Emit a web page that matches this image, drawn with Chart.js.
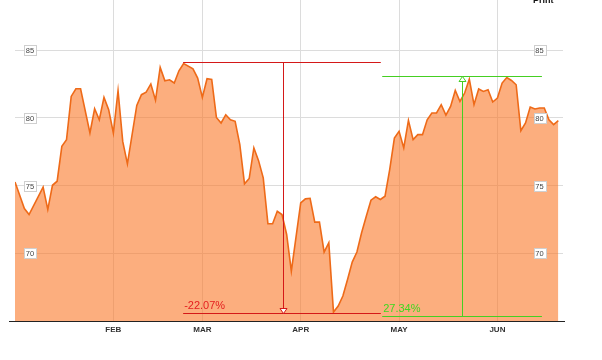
<!DOCTYPE html>
<html>
<head>
<meta charset="utf-8">
<script src="https://cdn.jsdelivr.net/npm/chart.js@4.4.1/dist/chart.umd.min.js"></script>
<style>
  body { margin: 0; background: #fff; }
  canvas { display: block; }
</style>
</head>
<body>
<canvas id="chart" width="602" height="360"></canvas>
<script>
// ---- Data: trading-day index (0 = first session of Jan) and price at each turning point ----
const days = [0, 2, 3, 6, 7, 8, 9, 10, 11, 12, 13, 14, 16, 17, 18, 19, 20, 21, 22, 23, 24,
  26, 27, 28, 29, 30, 31, 32, 33, 34, 35, 36, 38, 39, 40, 41, 42, 43, 44, 45, 46, 47, 48, 49,
  50, 51, 52, 53, 54, 55, 56, 57, 58, 59, 61, 62, 63, 64, 65, 66, 67, 68, 69, 70, 71, 72, 73,
  74, 75, 76, 77, 78, 79, 80, 81, 82, 83, 84, 85, 86, 87, 88, 89, 90, 91, 92, 93, 94, 95, 96,
  97, 98, 99, 100, 101, 102, 103, 104, 105, 106, 107, 108, 109, 110, 111, 112, 113, 114, 115, 116];
const prices = [75.27, 73.3, 72.86, 74.88, 73.23, 75.02, 75.32, 77.9, 78.39, 81.58, 82.15, 82.15,
  78.88, 80.67, 79.86, 81.51, 80.6, 78.88, 82.0, 78.26, 76.6,
  80.92, 81.71, 81.9, 82.5, 81.3, 83.72, 82.74, 82.81, 82.57, 83.47, 84.0, 83.62, 82.94, 81.51,
  82.89, 82.83, 80.03, 79.62, 80.23, 79.86, 79.74, 78.02, 75.13,
  75.52, 77.78, 76.84, 75.57, 72.18, 72.18, 73.1, 72.86, 71.39, 68.68, 73.72, 74.02, 74.06,
  72.3, 72.3, 70.09, 70.78, 65.66, 66.1, 66.84, 68.07, 69.35, 70.09,
  71.51, 72.74, 73.92, 74.17, 73.97, 74.21, 76.18, 78.51, 79.0, 77.78, 79.81, 78.39, 78.76,
  78.76, 79.86, 80.36, 80.36, 80.97, 80.2, 80.84, 82.02, 81.21, 81.83,
  82.86, 80.97, 82.13, 81.95, 82.07, 81.17, 81.46, 82.57, 82.98, 82.76, 82.44, 79.05, 79.62,
  80.8, 80.65, 80.73, 80.73, 79.86, 79.5, 79.79];

const monthStarts = [21, 40, 61, 82, 103];
const monthNames = ["FEB", "MAR", "APR", "MAY", "JUN"];
const priceTicks = [70, 75, 80, 85];

// ---- Measured moves (in trading days / price) ----
const drawdown = { from: 35.9, to: 78.1, at: 57.2, high: 84.12, low: 65.62, text: "-22.07%" };
const rally = { from: 78.4, to: 112.5, at: 95.5, high: 83.08, low: 65.35, text: "27.34%" };

const FONT = "Arial, 'Liberation Sans', sans-serif";

function crisp(v) { return Math.round(v) + 0.5; }

function drawMove(ctx, x, y, m, lineColor, textColor, dir) {
  const x1 = x.getPixelForValue(m.from), x2 = x.getPixelForValue(m.to);
  const xm = crisp(x.getPixelForValue(m.at));
  const yh = crisp(y.getPixelForValue(m.high)), yl = crisp(y.getPixelForValue(m.low));
  ctx.strokeStyle = lineColor;
  ctx.lineWidth = 1;
  ctx.beginPath();
  ctx.moveTo(x1, yh); ctx.lineTo(x2, yh);
  ctx.moveTo(x1, yl); ctx.lineTo(x2, yl);
  ctx.moveTo(xm, yh); ctx.lineTo(xm, yl);
  ctx.stroke();

  // small hollow arrow head
  ctx.beginPath();
  if (dir === "down") {
    ctx.moveTo(xm, yl); ctx.lineTo(xm - 3.5, yl - 5); ctx.lineTo(xm + 3.5, yl - 5);
  } else {
    ctx.moveTo(xm, yh); ctx.lineTo(xm - 3.5, yh + 5); ctx.lineTo(xm + 3.5, yh + 5);
  }
  ctx.closePath();
  ctx.fillStyle = "#fff";
  ctx.fill();
  ctx.stroke();

  ctx.fillStyle = textColor;
  ctx.font = "11px " + FONT;
  ctx.textAlign = "left";
  ctx.textBaseline = "alphabetic";
  ctx.fillText(m.text, x1 + 1, yl - 5);
}

const overlay = {
  id: "overlay",
  afterDatasetsDraw(chart) {
    const { ctx, chartArea, scales: { x, y } } = chart;
    ctx.save();

    drawMove(ctx, x, y, drawdown, "#d41818", "#e42020", "down");
    drawMove(ctx, x, y, rally, "#45cf22", "#3fd81f", "up");

    // price labels in boxes, both sides
    ctx.font = "7.5px " + FONT;
    ctx.textAlign = "center";
    ctx.textBaseline = "middle";
    priceTicks.forEach(v => {
      const py = Math.round(y.getPixelForValue(v));
      [chartArea.left + 15, chartArea.right - 23.5].forEach(cx => {
        const bx = Math.round(cx - 6) + 0.5, by = py - 5 + 0.5;
        ctx.fillStyle = "#fff";
        ctx.fillRect(bx, by, 12, 10);
        ctx.strokeStyle = "#cfcfcf";
        ctx.strokeRect(bx, by, 12, 10);
        ctx.fillStyle = "#444";
        ctx.fillText(String(v), cx, py + 0.5);
      });
    });

    // base line
    ctx.strokeStyle = "#222";
    ctx.lineWidth = 1;
    ctx.beginPath();
    ctx.moveTo(9, crisp(chartArea.bottom));
    ctx.lineTo(565, crisp(chartArea.bottom));
    ctx.stroke();

    // clipped "Print" link at the top
    ctx.fillStyle = "#111";
    ctx.font = "bold 9px " + FONT;
    ctx.textAlign = "left";
    ctx.textBaseline = "alphabetic";
    ctx.fillText("Print", 533, 3);

    ctx.restore();
  }
};

new Chart(document.getElementById("chart"), {
  type: "line",
  data: {
    datasets: [{
      data: days.map((d, i) => ({ x: d, y: prices[i] })),
      borderColor: "#ee6a18",
      borderWidth: 1.6,
      backgroundColor: "rgba(250,120,40,0.6)",
      fill: "start",
      pointRadius: 0,
      tension: 0
    }]
  },
  options: {
    responsive: false,
    animation: false,
    layout: { padding: { left: 0, right: 39, top: 0, bottom: 0 } },
    plugins: { legend: { display: false }, tooltip: { enabled: false } },
    scales: {
      x: {
        type: "linear",
        min: 0,
        max: 117,
        afterBuildTicks: s => { s.ticks = monthStarts.map(v => ({ value: v })); },
        afterFit: s => { s.height = 39; },
        grid: { color: "#dcdcdc", drawTicks: false },
        border: { display: false },
        ticks: {
          padding: 4,
          color: "#333",
          font: { family: FONT, size: 8, weight: "bold" },
          maxRotation: 0,
          autoSkip: false,
          callback: (v, i) => monthNames[i]
        }
      },
      y: {
        min: 65,
        max: 88.7,
        afterBuildTicks: s => { s.ticks = priceTicks.map(v => ({ value: v })); },
        afterFit: s => { s.width = 15; },
        grid: { color: "#dcdcdc", drawTicks: false },
        border: { display: false },
        ticks: { display: false }
      }
    }
  },
  plugins: [overlay]
});
</script>
</body>
</html>
